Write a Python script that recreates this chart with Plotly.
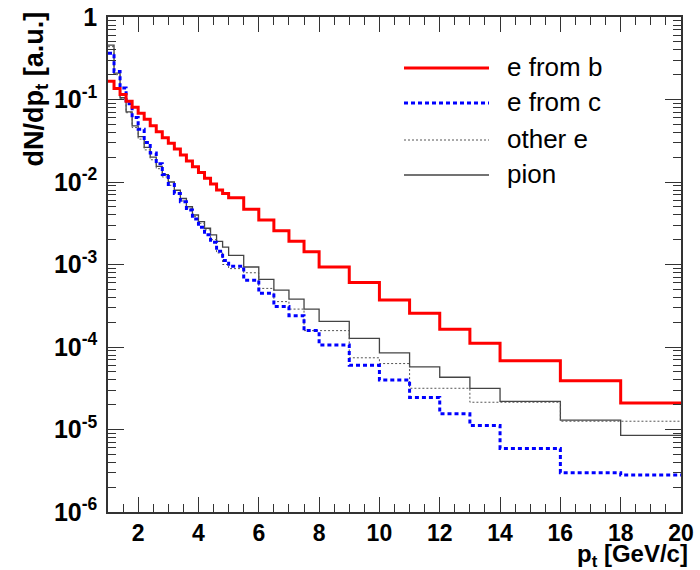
import plotly.graph_objects as go

# bin edges (GeV/c)
edges = ([1.0 + 0.2 * i for i in range(20)] + [5.0, 5.5, 6.0, 6.5, 7.0, 7.5]
         + [8, 9, 10, 11, 12, 13] + [14, 16, 18, 20])

e_from_b = [0.166, 0.136, 0.115, 0.0955, 0.0804, 0.0681, 0.0575, 0.0482, 0.0407, 0.0344,
            0.0294, 0.0251, 0.0212, 0.0180, 0.0153, 0.0130, 0.0111, 0.00946, 0.00800, 0.00724,
            0.00646, 0.00468, 0.00347, 0.00257, 0.00191, 0.00143,
            0.000933, 0.000603, 0.000372, 0.000257, 0.000164, 0.000111,
            6.8e-5, 3.9e-5, 2.1e-5]

e_from_c = [0.363, 0.219, 0.138, 0.0891, 0.0603, 0.0437, 0.0302, 0.0224, 0.0166, 0.0123,
            0.00933, 0.00724, 0.00575, 0.00457, 0.00355, 0.00282, 0.00229, 0.00186, 0.00145, 0.00112,
            0.000955, 0.000646, 0.000447, 0.000309, 0.000240, 0.000158,
            0.000106, 6.0e-5, 3.98e-5, 2.45e-5, 1.55e-5, 1.12e-5,
            5.9e-6, 3.0e-6, 2.8e-6]

other_e = [0.437, 0.200, 0.102, 0.0692, 0.0457, 0.0331, 0.0245, 0.0186, 0.0145, 0.0115,
           0.00912, 0.00741, 0.00589, 0.00479, 0.00380, 0.00316, 0.00263, 0.00200, 0.00138, 0.00100,
           0.000891, 0.000794, 0.000513, 0.000355, 0.000288, 0.000158,
           0.000158, 7.4e-5, 6.3e-5, 3.16e-5, 3.16e-5, 2.14e-5,
           2.14e-5, 1.26e-5, 1.26e-5]

pion = [0.457, 0.209, 0.105, 0.0708, 0.0479, 0.0355, 0.0263, 0.0200, 0.0155, 0.0123,
        0.0100, 0.00794, 0.00631, 0.00501, 0.00398, 0.00331, 0.00275, 0.00229, 0.00191, 0.00162,
        0.00129, 0.000933, 0.000661, 0.000490, 0.000380, 0.000288,
        0.000204, 0.000127, 8.5e-5, 5.75e-5, 4.3e-5, 3.16e-5,
        2.19e-5, 1.30e-5, 8.5e-6]

series_names = ["e from b", "e from c", "other e", "pion"]
y_tick_vals = [1e-6, 1e-5, 1e-4, 1e-3, 1e-2, 1e-1, 1]
y_tick_text = ["10<sup>-6</sup>", "10<sup>-5</sup>", "10<sup>-4</sup>", "10<sup>-3</sup>",
               "10<sup>-2</sup>", "10<sup>-1</sup>", "1"]

FONT = "Liberation Sans, Arial, sans-serif"

styles = [
    dict(color="#ff0000", width=3, dash="solid"),
    dict(color="#0000ff", width=3, dash="4px,3px"),
    dict(color="#555555", width=1, dash="2px,2px"),
    dict(color="#444444", width=1.3, dash="solid"),
]
data = [e_from_b, e_from_c, other_e, pion]

fig = go.Figure()
for i in [3, 2, 1, 0]:
    vals = data[i]
    fig.add_trace(go.Scatter(x=list(edges), y=list(vals) + [vals[-1]], mode="lines",
                             line_shape="hv", line=styles[i], name=series_names[i],
                             showlegend=False, hoverinfo="skip"))

# plot-area geometry in pixels
L, R, T, B = 108, 681, 17, 512
W, H = R - L, B - T
def px(x):
    return (x - L) / W
def py(y):
    return (B - y) / H

# manual ROOT-style legend
leg_rows = [68, 103, 140, 175]
for i, yy in enumerate(leg_rows):
    fig.add_shape(type="line", xref="paper", yref="paper",
                  x0=px(404), x1=px(489), y0=py(yy), y1=py(yy), line=styles[i])
    fig.add_annotation(xref="paper", yref="paper", x=px(505), y=py(yy - 1),
                       xanchor="left", yanchor="middle", text=series_names[i],
                       showarrow=False, font=dict(family=FONT, size=26, color="black"))

# axis titles
fig.add_annotation(xref="paper", yref="paper", x=px(36), y=py(10), xanchor="center", yanchor="top",
                   textangle=-90, showarrow=False, text="dN/dp<sub>t</sub> [a.u.]",
                   font=dict(family=FONT, size=27, color="black", weight="bold"))
fig.add_annotation(xref="paper", yref="paper", x=px(690), y=py(573), xanchor="right", yanchor="bottom",
                   showarrow=False, text="p<sub>t</sub> [GeV/c]",
                   font=dict(family=FONT, size=24, color="black", weight="bold"))

minor_y = [k * 10.0 ** e for e in range(-6, 0) for k in range(2, 10)]

fig.update_layout(
    template="none",
    width=700, height=570,
    margin=dict(l=L, r=700 - R, t=T, b=570 - B, autoexpand=False),
    paper_bgcolor="white", plot_bgcolor="white",
    font=dict(family=FONT, color="black"),
    xaxis=dict(range=[1, 20], tickmode="linear", tick0=0, dtick=2, automargin=False,
               ticks="inside", ticklen=15, tickwidth=1, tickcolor="#333",
               minor=dict(ticks="inside", ticklen=8, dtick=0.5, tick0=0, tickcolor="#333", tickwidth=1),
               showline=True, linecolor="#333", linewidth=1.5, mirror="ticks",
               showgrid=False, zeroline=False, ticklabelstandoff=0,
               tickfont=dict(size=23, family=FONT, color="black", weight="bold")),
    yaxis=dict(type="log", range=[-6, 0], tickmode="array", tickvals=y_tick_vals, ticktext=y_tick_text,
               automargin=False,
               ticks="inside", ticklen=16, tickwidth=1, tickcolor="#333",
               minor=dict(ticks="inside", ticklen=8, tickmode="array", tickvals=minor_y,
                          tickcolor="#333", tickwidth=1),
               showline=True, linecolor="#333", linewidth=1.5, mirror="ticks",
               showgrid=False, zeroline=False, ticklabelstandoff=4,
               tickfont=dict(size=25, family=FONT, color="black", weight="bold")),
)

fig.write_html("out.html")
